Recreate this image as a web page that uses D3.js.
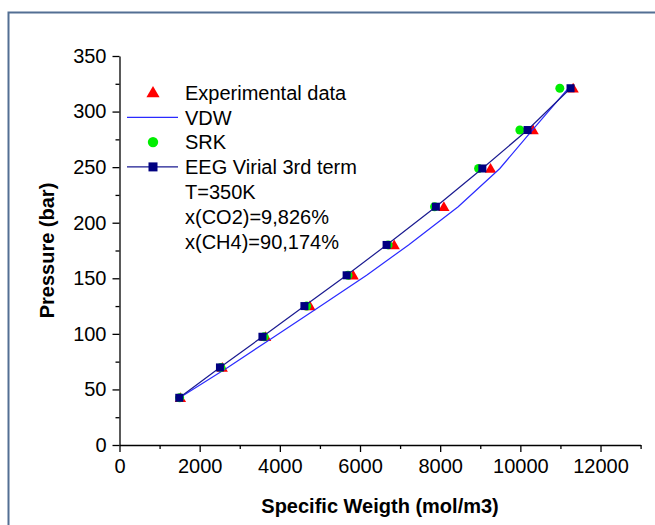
<!DOCTYPE html>
<html>
<head>
<meta charset="utf-8">
<script src="https://cdn.jsdelivr.net/npm/d3@7"></script>
<style>
	body { margin: 0; background: #fff; }
	svg { display: block; font-family: "Liberation Sans", Arial, sans-serif; }
	.tick text { font-size: 20px; fill: #000; }
	.tick line, .domain { stroke: #000; stroke-width: 1.3; }
</style>
</head>
<body>
<svg id="chart" width="655" height="525"></svg>
<script>
// pressure levels (bar), shared by all series
var pressure = [42.5, 69.8, 97.4, 125.0, 152.7, 180.0, 214.4, 248.8, 283.4, 321.0];

// specific weight (mol/m3) per series
var expX = [1520, 2564, 3646, 4751, 5830, 6853, 8092, 9257, 10319, 11317];
var vdwX = [1500, 2700, 3860, 5017, 6165, 7211, 8449, 9489, 10300, 11200];
var srkX = [1500, 2530, 3610, 4670, 5700, 6700, 7860, 8958, 9988, 10985];
var eegX = [1491, 2506, 3566, 4613, 5666, 6663, 7893, 9052, 10180, 11252];

// ticks
var xMajor = [0, 2000, 4000, 6000, 8000, 10000, 12000];
var xMinor = [1000, 3000, 5000, 7000, 9000, 11000, 13000];
var yMajor = [0, 50, 100, 150, 200, 250, 300, 350];
var yMinor = [25, 75, 125, 175, 225, 275, 325];

// legend text
var legendNames = ["Experimental data", "VDW", "SRK", "EEG Virial 3rd term"];
var legendNotes = ["T=350K", "x(CO2)=9,826%", "x(CH4)=90,174%"];

var svg = d3.select("#chart");

// frame round the figure (only top and left are inside the picture)
svg.append("rect")
	.attr("x", 8.5).attr("y", 12.5)
	.attr("width", 700).attr("height", 600)
	.attr("fill", "none")
	.attr("stroke", "#536f93")
	.attr("stroke-width", 2);

var x = d3.scaleLinear().domain([0, 13000]).range([119.5, 640.6]);
var y = d3.scaleLinear().domain([0, 350]).range([445, 56]);

/**
 * zip one x series with the pressure list
 */
function points(xs) {
	return xs.map(function (v, i) { return [v, pressure[i]]; });
}

// axes: major ticks with labels, minor ticks without
svg.append("g")
	.attr("transform", "translate(0," + y(0) + ")")
	.call(d3.axisBottom(x).tickValues(xMajor).tickFormat(d3.format("d")).tickSize(7).tickSizeOuter(0).tickPadding(7));
svg.append("g")
	.attr("transform", "translate(0," + y(0) + ")")
	.call(d3.axisBottom(x).tickValues(xMinor).tickFormat("").tickSize(4))
	.select(".domain").remove();

svg.append("g")
	.attr("transform", "translate(" + x(0) + ",0)")
	.call(d3.axisLeft(y).tickValues(yMajor).tickSize(7).tickSizeOuter(0).tickPadding(6));
svg.append("g")
	.attr("transform", "translate(" + x(0) + ",0)")
	.call(d3.axisLeft(y).tickValues(yMinor).tickFormat("").tickSize(4))
	.select(".domain").remove();

// axis titles
svg.append("text")
	.attr("x", (x.range()[0] + x.range()[1]) / 2).attr("y", 513)
	.attr("text-anchor", "middle")
	.style("font-size", "20px").style("font-weight", "bold")
	.text("Specific Weigth (mol/m3)");
svg.append("text")
	.attr("transform", "translate(54," + (y.range()[0] + y.range()[1]) / 2 + ") rotate(-90)")
	.attr("text-anchor", "middle")
	.style("font-size", "20px").style("font-weight", "bold")
	.text("Pressure (bar)");

var line = d3.line()
	.x(function (d) { return x(d[0]); })
	.y(function (d) { return y(d[1]); });

var tri = d3.symbol().type(d3.symbolTriangle).size(55);

// experimental data: red triangles
svg.append("g").selectAll("path")
	.data(points(expX))
	.enter().append("path")
	.attr("d", tri)
	.attr("transform", function (d) { return "translate(" + x(d[0]) + "," + (y(d[1]) + 1) + ")"; })
	.attr("fill", "#ff0000");

// VDW: plain blue line
svg.append("path")
	.datum(points(vdwX))
	.attr("d", line)
	.attr("fill", "none")
	.attr("stroke", "#2a2aff")
	.attr("stroke-width", 1.2);

// SRK: green circles
svg.append("g").selectAll("circle")
	.data(points(srkX))
	.enter().append("circle")
	.attr("cx", function (d) { return x(d[0]); })
	.attr("cy", function (d) { return y(d[1]); })
	.attr("r", 4.5)
	.attr("fill", "#00ee00");

// EEG: navy line with squares
svg.append("path")
	.datum(points(eegX))
	.attr("d", line)
	.attr("fill", "none")
	.attr("stroke", "#1a1a90")
	.attr("stroke-width", 1.2);
svg.append("g").selectAll("rect")
	.data(points(eegX))
	.enter().append("rect")
	.attr("x", function (d) { return x(d[0]) - 4; })
	.attr("y", function (d) { return y(d[1]) - 4; })
	.attr("width", 8).attr("height", 8)
	.attr("fill", "#000080");

// legend
var legX = 153, legText = 185, legY = 92.5, legStep = 24.8;
var leg = svg.append("g");

leg.append("path")
	.attr("d", d3.symbol().type(d3.symbolTriangle).size(75))
	.attr("transform", "translate(" + legX + "," + (legY + 1) + ")")
	.attr("fill", "#ff0000");
leg.append("line")
	.attr("x1", 127).attr("x2", 178)
	.attr("y1", legY + legStep).attr("y2", legY + legStep)
	.attr("stroke", "#2a2aff").attr("stroke-width", 1.2);
leg.append("circle")
	.attr("cx", legX).attr("cy", legY + 2 * legStep).attr("r", 5.2)
	.attr("fill", "#00ee00");
leg.append("line")
	.attr("x1", 127).attr("x2", 178)
	.attr("y1", legY + 3 * legStep).attr("y2", legY + 3 * legStep)
	.attr("stroke", "#1a1a90").attr("stroke-width", 1.2);
leg.append("rect")
	.attr("x", legX - 4.5).attr("y", legY + 3 * legStep - 4.5)
	.attr("width", 9).attr("height", 9)
	.attr("fill", "#000080");

leg.selectAll("text")
	.data(legendNames.concat(legendNotes))
	.enter().append("text")
	.attr("x", legText)
	.attr("y", function (d, i) { return legY + i * legStep; })
	.attr("dy", "0.36em")
	.style("font-size", "20px")
	.text(function (d) { return d; });
</script>
</body>
</html>
